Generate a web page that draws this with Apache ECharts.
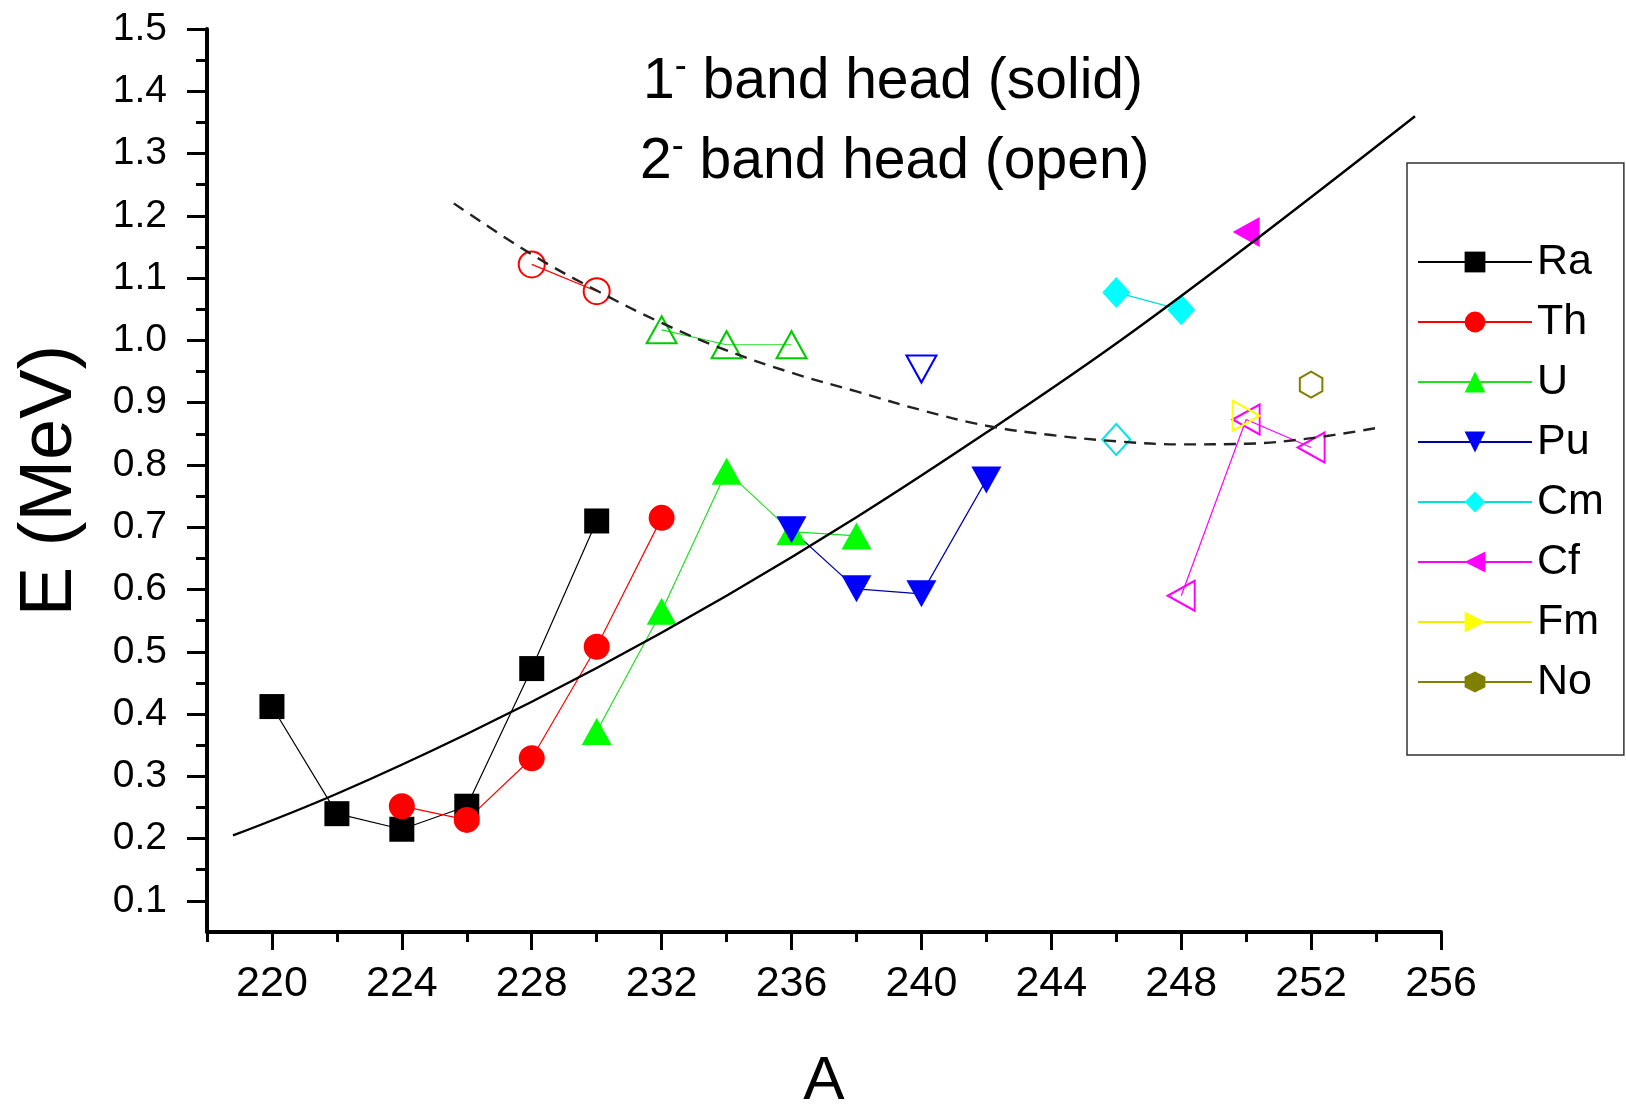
<!DOCTYPE html>
<html>
<head>
<meta charset="utf-8">
<script src="https://cdn.jsdelivr.net/npm/echarts@6/dist/echarts.min.js"></script>
<style>
html, body { margin: 0; padding: 0; background: #fff; }
#chart { width: 1626px; height: 1104px; }
</style>
</head>
<body>
<div id="chart"></div>
<script>
// 1- band heads (solid markers), [A, E in MeV]
const raSolid = [[220, 0.412], [222, 0.240], [224, 0.215], [226, 0.252], [228, 0.473], [230, 0.710]]
const thSolid = [[224, 0.252], [226, 0.230], [228, 0.329], [230, 0.508], [232, 0.715]]
const uSolid = [[230, 0.372], [232, 0.565], [234, 0.790], [236, 0.693], [238, 0.686]]
const puSolid = [[236, 0.696], [238, 0.601], [240, 0.593], [242, 0.776]]
const cmSolid = [[246, 1.077], [248, 1.049]]
const cfSolid = [[250, 1.174]]

// 2- band heads (open markers)
const thOpen = [[228, 1.122], [230, 1.079]]
const uOpen = [[232, 1.017], [234, 0.993], [236, 0.993]]
const puOpen = [[240, 0.954]]
const cmOpen = [[246, 0.841]]
const cfOpen = [[248, 0.590], [250, 0.873], [252, 0.828]]
const fmOpen = [[250, 0.879]]
const noOpen = [[252, 0.929]]

// trend curves
const fitSolid = [[218.8, 0.205], [222, 0.272], [226, 0.368], [230, 0.474], [234, 0.590], [238, 0.716], [242, 0.852], [246, 0.995], [250, 1.150], [255.2, 1.360]]
const fitDashed = [[225.6, 1.220], [228, 1.138], [230, 1.080], [232, 1.028], [234, 0.984], [236, 0.948], [238, 0.918], [240, 0.888], [242, 0.863], [244, 0.848], [246, 0.838], [248, 0.833], [250, 0.834], [252, 0.843], [254.2, 0.861]]

const names = ['Ra', 'Th', 'U', 'Pu', 'Cm', 'Cf', 'Fm', 'No']
const xTicks = [220, 224, 228, 232, 236, 240, 244, 248, 252, 256]
const xMinorTicks = [218, 222, 226, 230, 234, 238, 242, 246, 250, 254]
const yTicks = [0.1, 0.2, 0.3, 0.4, 0.5, 0.6, 0.7, 0.8, 0.9, 1.0, 1.1, 1.2, 1.3, 1.4, 1.5]
const yMinorTicks = [0.15, 0.25, 0.35, 0.45, 0.55, 0.65, 0.75, 0.85, 0.95, 1.05, 1.15, 1.25, 1.35, 1.45]

const FONT = 'Liberation Sans, Arial, sans-serif'
const hexagon = 'path://M0,-10L8.66,-5L8.66,5L0,10L-8.66,5L-8.66,-5Z'
const TRI = [30, 27]

function solid(name, data, color, symbol, size, rotate, lineColor) {
    return {
        name: name,
        type: 'line',
        data: data,
        symbol: symbol,
        symbolSize: size,
        symbolRotate: rotate || 0,
        symbolKeepAspect: true,
        lineStyle: { color: lineColor || color, width: 1.2 },
        itemStyle: { color: color },
        emphasis: { disabled: true },
        z: 3,
    }
}

function open(name, data, color, symbol, size, rotate, lineColor) {
    return {
        name: name,
        type: 'line',
        data: data,
        symbol: symbol,
        symbolSize: size,
        symbolRotate: rotate || 0,
        symbolKeepAspect: true,
        lineStyle: { color: lineColor || color, width: 1.2 },
        itemStyle: { color: 'rgba(255,255,255,0)', borderColor: color, borderWidth: 2 },
        emphasis: { disabled: true },
        z: 3,
    }
}

const series = [
    solid('Ra', raSolid, '#000000', 'rect', 25),
    solid('Th', thSolid, '#ff0000', 'circle', 26),
    solid('U', uSolid, '#00ff00', 'triangle', TRI, 0, '#22dd22'),
    solid('Pu', puSolid, '#0000ff', 'triangle', TRI, 180, '#0000aa'),
    solid('Cm', cmSolid, '#00ffff', 'diamond', [28, 31], 0, '#00dddd'),
    solid('Cf', cfSolid, '#ff00ff', 'triangle', TRI, 90),
    solid('Fm', [], '#ffff00', 'triangle', TRI, -90, '#eeee00'),
    solid('No', [], '#808000', hexagon, 22),
    open('Th', thOpen, '#ff0000', 'circle', 26),
    open('U', uOpen, '#00cc00', 'triangle', TRI, 0, '#22dd22'),
    open('Pu', puOpen, '#0000ff', 'triangle', TRI, 180),
    open('Cm', cmOpen, '#00e5e5', 'diamond', [28, 31]),
    open('Cf', cfOpen, '#ff00ff', 'triangle', TRI, 90),
    open('Fm', fmOpen, '#ffff00', 'triangle', TRI, -90),
    open('No', noOpen, '#808000', hexagon, 26),
    {
        name: 'fit1',
        type: 'line',
        data: fitSolid,
        smooth: 0.4,
        showSymbol: false,
        lineStyle: { color: '#000', width: 2.4 },
        emphasis: { disabled: true },
        z: 5,
    },
    {
        name: 'fit2',
        type: 'line',
        data: fitDashed,
        smooth: 0.4,
        showSymbol: false,
        lineStyle: { color: '#222', width: 2.4, type: [12, 8] },
        emphasis: { disabled: true },
        z: 5,
    },
]

const axisLineStyle = { color: '#000', width: 4 }

const option = {
    animation: false,
    backgroundColor: '#fff',
    grid: { left: 207, right: 185, top: 29, bottom: 172, outerBoundsMode: 'none' },
    xAxis: [
        {
            type: 'value',
            min: 218,
            max: 256,
            axisLine: { show: true, onZero: false, lineStyle: axisLineStyle },
            axisTick: { show: true, customValues: xTicks, length: 18, lineStyle: { color: '#000', width: 3 } },
            axisLabel: { customValues: xTicks, fontSize: 43, fontFamily: FONT, color: '#000', margin: 31 },
            splitLine: { show: false },
            name: 'A',
            nameLocation: 'middle',
            nameGap: 119,
            nameTextStyle: { fontSize: 62, fontFamily: FONT, color: '#000' },
        },
        {
            type: 'value',
            min: 218,
            max: 256,
            position: 'bottom',
            axisLine: { show: false, onZero: false },
            axisTick: { show: true, customValues: xMinorTicks, length: 10, lineStyle: { color: '#000', width: 3 } },
            axisLabel: { show: false },
            splitLine: { show: false },
        },
    ],
    yAxis: [
        {
            type: 'value',
            min: 0.05,
            max: 1.5,
            axisLine: { show: true, onZero: false, lineStyle: axisLineStyle },
            axisTick: { show: true, customValues: yTicks, length: 20, lineStyle: { color: '#000', width: 3 } },
            axisLabel: {
                customValues: yTicks,
                formatter: v => v.toFixed(1),
                fontSize: 39,
                fontFamily: FONT,
                color: '#000',
                margin: 40,
            },
            splitLine: { show: false },
            name: 'E (MeV)',
            nameLocation: 'middle',
            nameGap: 119,
            nameTextStyle: { fontSize: 74, fontFamily: FONT, color: '#000' },
        },
        {
            type: 'value',
            min: 0.05,
            max: 1.5,
            position: 'left',
            axisLine: { show: false, onZero: false },
            axisTick: { show: true, customValues: yMinorTicks, length: 11, lineStyle: { color: '#000', width: 3 } },
            axisLabel: { show: false },
            splitLine: { show: false },
        },
    ],
    legend: {
        orient: 'vertical',
        left: 1407,
        top: 163,
        data: names,
        selectedMode: false,
        itemWidth: 114,
        itemHeight: 26,
        itemGap: 16,
        padding: [77, 20, 51, 10],
        borderColor: '#333',
        borderWidth: 1.5,
        backgroundColor: '#fff',
        textStyle: { fontSize: 43, fontFamily: FONT, color: '#000', lineHeight: 44 },
    },
    graphic: [
        {
            type: 'text',
            x: 643,
            y: 82,
            style: {
                text: '{n|1}{s|-}{n| band head (solid)}',
                verticalAlign: 'middle',
                rich: {
                    n: { fontSize: 57, fontFamily: FONT, fill: '#000', lineHeight: 66 },
                    s: { fontSize: 36, fontFamily: FONT, fill: '#000', lineHeight: 20, verticalAlign: 'top' },
                },
            },
        },
        {
            type: 'text',
            x: 640,
            y: 162,
            style: {
                text: '{n|2}{s|-}{n| band head (open)}',
                verticalAlign: 'middle',
                rich: {
                    n: { fontSize: 57, fontFamily: FONT, fill: '#000', lineHeight: 66 },
                    s: { fontSize: 36, fontFamily: FONT, fill: '#000', lineHeight: 20, verticalAlign: 'top' },
                },
            },
        },
    ],
    series: series,
}

const chart = echarts.init(document.getElementById('chart'))
chart.setOption(option)
</script>
</body>
</html>
